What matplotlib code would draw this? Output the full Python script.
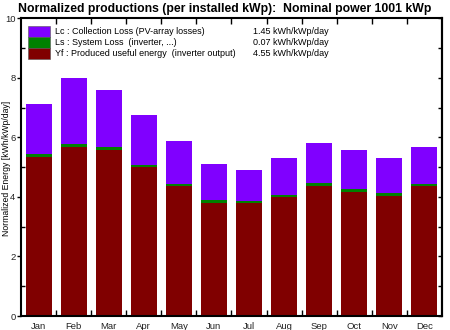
import matplotlib
matplotlib.use("Agg")
import matplotlib.pyplot as plt
from matplotlib.patches import Rectangle
import numpy as np

months = ["Jan", "Feb", "Mar", "Apr", "May", "Jun", "Jul", "Aug", "Sep", "Oct", "Nov", "Dec"]
yf = [5.34, 5.69, 5.57, 5.00, 4.37, 3.81, 3.78, 3.99, 4.37, 4.18, 4.04, 4.35]
ls = [0.09, 0.09, 0.09, 0.07, 0.07, 0.07, 0.07, 0.07, 0.08, 0.08, 0.08, 0.07]
lc = [1.70, 2.20, 1.92, 1.67, 1.44, 1.22, 1.05, 1.23, 1.35, 1.31, 1.19, 1.26]

legend_labels = ["Lc : Collection Loss (PV-array losses)",
                 "Ls : System Loss  (inverter, ...)",
                 "Yf : Produced useful energy  (inverter output)"]
legend_values = ["1.45 kWh/kWp/day", "0.07 kWh/kWp/day", "4.55 kWh/kWp/day"]
colors = ["#8000FF", "#008000", "#800000"]

title = "Normalized productions (per installed kWp):  Nominal power 1001 kWp"
ylabel = "Normalized Energy [kWh/kWp/day]"

plt.rcParams['font.family'] = ['Liberation Sans', 'DejaVu Sans']

fig = plt.figure(figsize=(4.5, 3.3), dpi=100)
ax = fig.add_axes([0.0467, 0.0424, 0.9353, 0.9026])

x = np.arange(len(months))
w = 0.74
yf_a = np.array(yf)
ls_a = np.array(ls)
lc_a = np.array(lc)
ax.bar(x, yf_a, w, color=colors[2], linewidth=0)
ax.bar(x, ls_a, w, bottom=yf_a, color=colors[1], linewidth=0)
ax.bar(x, lc_a, w, bottom=yf_a + ls_a, color=colors[0], linewidth=0)

ax.set_xlim(-0.5, 11.5)
ax.set_ylim(0, 10)

ax.set_xticks(x)
ax.set_xticklabels(months, fontsize=6.8, color="#222222")
ax.tick_params(axis='x', which='major', length=0, pad=4)
ax.set_xticks(np.arange(0.5, 11.5, 1), minor=True)
ax.tick_params(axis='x', which='minor', direction='in', length=4, top=True, bottom=True, width=1)

ax.set_yticks(np.arange(0, 11, 2))
ax.set_yticklabels([str(v) for v in range(0, 11, 2)], fontsize=6.8, color="#222222")
ax.tick_params(axis='y', which='major', direction='out', length=3, pad=1, width=1)
ax.set_yticks(np.arange(1, 10, 2), minor=True)
ax.tick_params(axis='y', which='minor', direction='in', length=3, width=1)

sec = ax.secondary_yaxis('right')
sec.set_yticks(np.arange(0, 11, 1))
sec.tick_params(direction='in', length=3, labelright=False, width=1)
sec.spines['right'].set_linewidth(1.5)

for s in ax.spines.values():
    s.set_linewidth(1.5)

fig.text(7 / 450, 0.49, ylabel, rotation=90, fontsize=6.2, ha='center', va='center')
fig.text(0.5, 0.972, title, fontsize=8.8, fontweight='bold', ha='center', va='center')

# legend
row_h = 0.037
for i, (lab, val, c) in enumerate(zip(legend_labels, legend_values, colors)):
    y0 = 0.975 - (i + 1) * row_h
    ax.add_patch(Rectangle((0.017, y0), 0.053, row_h, transform=ax.transAxes,
                           facecolor=c, edgecolor='#555555', linewidth=0.4))
    ax.text(0.08, y0 + row_h / 2, lab, transform=ax.transAxes, fontsize=6.5,
            va='center', ha='left')
    ax.text(0.732, y0 + row_h / 2, val, transform=ax.transAxes, fontsize=6.5,
            va='center', ha='right')

fig.savefig("out.png", dpi=100)
